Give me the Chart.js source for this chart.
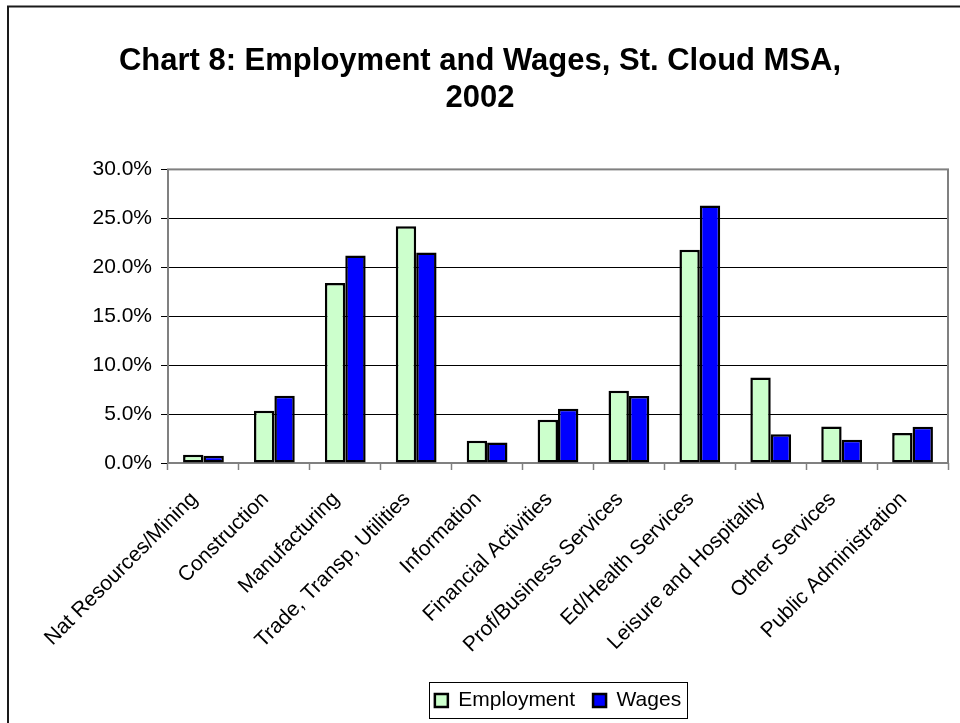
<!DOCTYPE html>
<html>
<head>
<meta charset="utf-8">
<script src="https://cdn.jsdelivr.net/npm/chart.js@4/dist/chart.umd.min.js"></script>
<style>
  html, body { margin: 0; padding: 0; background: #ffffff; }
  #wrap { width: 960px; height: 723px; }
</style>
</head>
<body>
<div id="wrap"><canvas id="chart" width="960" height="723"></canvas></div>
<script>
// Industry sectors, St. Cloud MSA, 2002
const categories = [
  'Nat Resources/Mining', 'Construction', 'Manufacturing', 'Trade, Transp, Utilities',
  'Information', 'Financial Activities', 'Prof/Business Services', 'Ed/Health Services',
  'Leisure and Hospitality', 'Other Services', 'Public Administration'
];
// Share of total (percent)
const employment = [0.85, 5.34, 18.4, 24.2, 2.28, 4.42, 7.38, 21.8, 8.74, 3.74, 3.06];
const wages      = [0.75, 6.87, 21.2, 21.5, 2.10, 5.54, 6.84, 26.3, 2.93, 2.38, 3.71];
const seriesNames = ['Employment', 'Wages'];
const titleLines = ['Chart 8: Employment and Wages, St. Cloud MSA,', '2002'];

const FONT = "'Liberation Sans', Arial, sans-serif";

// Page background, outer frame, plot frame and legend box
const framePlugin = {
  id: 'frames',
  beforeDraw(chart) {
    const ctx = chart.ctx;
    ctx.save();
    ctx.fillStyle = '#ffffff';
    ctx.fillRect(0, 0, chart.width, chart.height);
    ctx.strokeStyle = '#1a1a1a';
    ctx.lineWidth = 2;
    ctx.strokeRect(8, 6.5, chart.width + 20, chart.height + 20);
    ctx.restore();
  },
  beforeDatasetsDraw(chart) {
    const {ctx, chartArea: a} = chart;
    ctx.save();
    ctx.strokeStyle = '#808080';
    ctx.lineWidth = 2;
    ctx.strokeRect(a.left, a.top, a.right - a.left, a.bottom - a.top);
    ctx.restore();
  },
  afterDraw(chart) {
    const lg = chart.legend;
    if (!lg || !lg.legendHitBoxes || !lg.legendHitBoxes.length) return;
    const hb = lg.legendHitBoxes;
    const first = hb[0], last = hb[hb.length - 1];
    const ctx = chart.ctx;
    ctx.save();
    ctx.strokeStyle = '#000000';
    ctx.lineWidth = 1;
    const x0 = Math.round(first.left) - 5.5;
    const x1 = Math.round(last.left + last.width) + 6.5;
    const y0 = Math.round(first.top) - 7.5;
    const y1 = Math.round(first.top + first.height) + 7.5;
    ctx.strokeRect(x0, y0, x1 - x0, y1 - y0);
    ctx.restore();
  }
};

new Chart(document.getElementById('chart'), {
  type: 'bar',
  data: {
    labels: categories,
    datasets: [
      {
        label: seriesNames[0],
        data: employment,
        backgroundColor: '#ccffcc',
        borderColor: '#000000',
        borderWidth: 2.5,
        borderSkipped: false,
        yAxisID: 'y'
      },
      {
        label: seriesNames[1],
        data: wages,
        backgroundColor: '#0000ff',
        borderColor: '#000000',
        borderWidth: 2.5,
        borderSkipped: false,
        yAxisID: 'y'
      }
    ]
  },
  options: {
    responsive: false,
    animation: false,
    devicePixelRatio: 1,
    layout: { padding: { left: 0, right: 0, top: 0, bottom: 2 } },
    datasets: { bar: { categoryPercentage: 0.575, barPercentage: 1.0 } },
    scales: {
      x: {
        grid: {
          display: true,
          drawOnChartArea: false,
          drawTicks: true,
          tickLength: 7,
          tickColor: '#808080',
          tickWidth: 1.5,
          offset: true
        },
        border: { display: false },
        ticks: {
          autoSkip: false,
          maxRotation: 45,
          minRotation: 45,
          padding: 17,
          labelOffset: -9,
          color: '#000000',
          font: { family: FONT, size: 21 }
        },
        afterFit(scale) { scale.height = 209; }
      },
      y: {
        min: 0,
        max: 30,
        grid: {
          color: (c) => (c.tick && (c.tick.value === 0 || c.tick.value === 30)) ? 'rgba(0,0,0,0)' : '#000000',
          lineWidth: 1,
          tickColor: '#000000',
          tickLength: 7,
          drawTicks: true
        },
        border: { display: false },
        ticks: {
          stepSize: 5,
          padding: 9,
          color: '#000000',
          font: { family: FONT, size: 21 },
          callback: (v) => Number(v).toFixed(1) + '%'
        },
        afterFit(scale) { scale.width = 168; }
      },
      // empty right-hand margin strip beside the plot
      yRight: {
        position: 'right',
        display: true,
        grid: { display: false },
        border: { display: false },
        ticks: { display: false },
        afterFit(scale) { scale.width = 12; }
      }
    },
    plugins: {
      title: {
        display: true,
        text: titleLines,
        color: '#000000',
        font: { family: FONT, size: 31, weight: 'bold', lineHeight: 1.2 },
        padding: { top: 43, bottom: 52 }
      },
      legend: {
        display: true,
        position: 'bottom',
        fullSize: false,
        labels: {
          color: '#000000',
          boxWidth: 13,
          boxHeight: 13,
          padding: 18,
          font: { family: FONT, size: 21 }
        }
      },
      tooltip: { enabled: false }
    }
  },
  plugins: [framePlugin]
});
</script>
</body>
</html>
